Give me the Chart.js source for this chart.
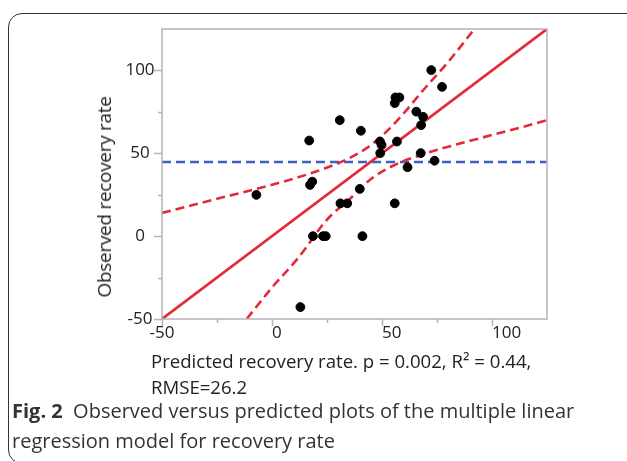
<!DOCTYPE html>
<html>
<head>
<meta charset="utf-8">
<script src="https://cdn.jsdelivr.net/npm/chart.js@4.4.0/dist/chart.umd.min.js"></script>
<style>
  body { margin: 0; width: 627px; height: 461px; overflow: hidden; background: #fff; position: relative; font-family: "Open Sans", sans-serif; color: #222; }
  #box { position: absolute; left: 8px; top: 13px; width: 650px; height: 449px; border: 1.3px solid #333; border-radius: 14px; }
  #c { position: absolute; left: 0; top: 0; }
  .txt { position: absolute; white-space: nowrap; }
  #ytitle { left: 104px; top: 197px; font-size: 19px; transform: translate(-50%, -50%) rotate(-90deg); letter-spacing: -0.3px; }
  #xtitle { left: 151px; top: 348px; font-size: 18.6px; line-height: 26px; }
  #caption { left: 12px; top: 396px; font-size: 20px; line-height: 30px; color: #333; }
</style>
</head>
<body>
<div id="box"></div>
<canvas id="c" width="627" height="461"></canvas>
<div class="txt" id="ytitle">Observed recovery rate</div>
<div class="txt" id="xtitle">Predicted recovery rate. p = 0.002, R² = 0.44,<br>RMSE=26.2</div>
<div class="txt" id="caption"><b>Fig. 2</b>&nbsp; Observed versus predicted plots of the multiple linear<br>regression model for recovery rate</div>
<script>
// values
const predicted = [72.4, 77.3, 56.1, 57.9, 55.8, 65.6, 68.7, 67.8, 30.8, 40.4, 16.9, 49.1, 49.8, 56.8, 49.2, 67.6, 73.9, 61.6, 18.3, 17.3, -7.1, 39.9, 31.1, 34.2, 55.8, 18.6, 23.2, 24.4, 41.1, 12.9];
const observed  = [100.2, 90.1, 83.7, 83.7, 80.3, 75.1, 72, 67, 70, 63.6, 57.7, 57.1, 55, 57.1, 50.1, 50.1, 45.5, 41.6, 32.9, 30.9, 24.9, 28.5, 19.8, 19.8, 19.8, 0, 0, 0, 0, -42.8];

const fitX = [-50, 125];
const fitY = [-50, 125];
const meanX = [-50, 125];
const meanY = [44.7, 44.7];

const upperX = [-50, -25, 0, 20, 35, 45, 55, 70, 80, 92];
const upperY = [14, 22.5, 31, 39, 47, 55, 67, 90, 105, 125];
const lowerX = [-11.5, 0, 12, 25, 35, 45, 55, 70, 90, 110, 125];
const lowerY = [-50, -31, -13, 10, 22, 34.5, 42.5, 50, 57.5, 64.5, 70];

const axisMin = -50;
const axisMax = 125;
const majorTicks = [-50, 0, 50, 100];
const minorTicks = [-25, 25, 75];

const RED = 'rgb(226, 42, 56)';
const BLUE = 'rgb(58, 96, 196)';

function pts(xs, ys) {
    return xs.map((x, i) => ({ x: x, y: ys[i] }));
}

const framePlugin = {
    id: 'frame',
    afterDraw(chart) {
        const ctx = chart.ctx;
        const a = chart.chartArea;
        const xs = chart.scales.x;
        const ys = chart.scales.y;
        ctx.save();
        ctx.strokeStyle = '#b4b4b4';
        ctx.lineWidth = 1.5;
        ctx.strokeRect(a.left, a.top, a.right - a.left, a.bottom - a.top);

        ctx.beginPath();
        majorTicks.forEach(v => {
            let px = Math.round(xs.getPixelForValue(v)) + 0.5;
            ctx.moveTo(px, a.bottom); ctx.lineTo(px, a.bottom + 7);
            let py = Math.round(ys.getPixelForValue(v)) + 0.5;
            ctx.moveTo(a.left, py); ctx.lineTo(a.left - 8, py);
        });
        minorTicks.forEach(v => {
            let px = Math.round(xs.getPixelForValue(v)) + 0.5;
            ctx.moveTo(px, a.bottom); ctx.lineTo(px, a.bottom + 4);
            let py = Math.round(ys.getPixelForValue(v)) + 0.5;
            ctx.moveTo(a.left, py); ctx.lineTo(a.left - 4, py);
        });
        ctx.stroke();

        ctx.fillStyle = '#222';
        ctx.font = '17px "Open Sans"';
        ctx.textBaseline = 'middle';
        majorTicks.forEach(v => {
            ctx.textAlign = 'center';
            ctx.fillText(String(v), 140, ys.getPixelForValue(v));
            ctx.textAlign = v < 0 ? 'center' : 'left';
            ctx.fillText(String(v), xs.getPixelForValue(v), a.bottom + 14);
        });
        ctx.restore();
    }
};

new Chart(document.getElementById('c'), {
    type: 'scatter',
    data: {
        datasets: [
            {
                data: pts(predicted, observed),
                backgroundColor: '#000',
                borderColor: '#000',
                pointRadius: 4.4,
                order: 0
            },
            {
                data: pts(fitX, fitY),
                showLine: true,
                borderColor: RED,
                borderWidth: 2.6,
                pointRadius: 0,
                order: 1
            },
            {
                data: pts(upperX, upperY),
                showLine: true,
                borderColor: RED,
                borderWidth: 2.6,
                borderDash: [9, 5],
                cubicInterpolationMode: 'monotone',
                pointRadius: 0,
                order: 2
            },
            {
                data: pts(lowerX, lowerY),
                showLine: true,
                borderColor: RED,
                borderWidth: 2.6,
                borderDash: [9, 5],
                cubicInterpolationMode: 'monotone',
                pointRadius: 0,
                order: 3
            },
            {
                data: pts(meanX, meanY),
                showLine: true,
                borderColor: BLUE,
                borderWidth: 2.4,
                borderDash: [9, 5],
                pointRadius: 0,
                order: 4
            }
        ]
    },
    options: {
        responsive: false,
        animation: false,
        events: [],
        layout: { padding: { left: 0, top: 29, right: 80, bottom: 112 } },
        plugins: { legend: { display: false }, tooltip: { enabled: false } },
        scales: {
            x: {
                type: 'linear', min: axisMin, max: axisMax,
                grid: { display: false }, border: { display: false },
                ticks: { display: false },
                afterFit: s => { s.height = 30; }
            },
            y: {
                type: 'linear', min: axisMin, max: axisMax,
                grid: { display: false }, border: { display: false },
                ticks: { display: false },
                afterFit: s => { s.width = 162; }
            }
        }
    },
    plugins: [framePlugin]
});
</script>
</body>
</html>
